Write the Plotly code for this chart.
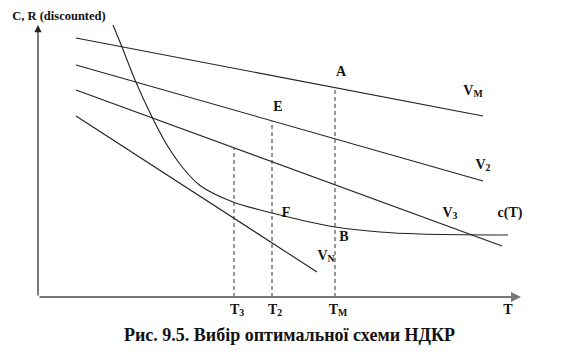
import numpy as np
import plotly.graph_objects as go

# ---- data (T on horizontal, C/R on vertical, arbitrary units) ----
line_names = ["V<sub>М</sub>", "V<sub>2</sub>", "V<sub>3</sub>", "V<sub>N</sub>"]
line_t0 = [3.8, 3.8, 3.8, 3.8]
line_t1 = [44.5, 44.5, 46.4, 27.9]
line_c0 = [25.9, 23.2, 20.7, 18.1]
line_c1 = [18.1, 11.6, 5.1, 2.5]

cost_t = [7.5, 8.4, 9.7, 11.4, 12.9, 14.5, 16.2, 19.5, 23.4, 29.7, 34.2, 38.2, 47.0]
cost_c = [27.2, 25.0, 21.7, 18.0, 15.2, 12.9, 11.15, 9.5, 8.4, 7.0, 6.5, 6.3, 6.2]

t_marks = [19.6, 23.4, 29.7]          # T3, T2, TM
t_mark_labels = ["T<sub>3</sub>", "T<sub>2</sub>", "T<sub>М</sub>"]
t_mark_line = [2, 1, 0]               # which V line the dashed marker reaches

x_max, y_max = 48.3, 27.2

FONT = "Liberation Serif"
fig = go.Figure()

for i in range(4):
    fig.add_trace(go.Scatter(x=[line_t0[i], line_t1[i]], y=[line_c0[i], line_c1[i]],
                             mode="lines", line=dict(color="#222", width=1.1),
                             hoverinfo="skip", showlegend=False))

fig.add_trace(go.Scatter(x=cost_t, y=cost_c, mode="lines",
                         line=dict(color="#222", width=1.1, shape="spline", smoothing=0.8),
                         hoverinfo="skip", showlegend=False))

for t, li in zip(t_marks, t_mark_line):
    top = np.interp(t, [line_t0[li], line_t1[li]], [line_c0[li], line_c1[li]])
    fig.add_trace(go.Scatter(x=[t, t], y=[0, top], mode="lines",
                             line=dict(color="#333", width=1, dash="4px,3px"),
                             hoverinfo="skip", showlegend=False))

# axes with arrows
fig.add_annotation(x=0, y=y_max, ax=0, ay=0, xref="x", yref="y", axref="x", ayref="y",
                   showarrow=True, arrowhead=2, arrowsize=1.2, arrowwidth=1.2, arrowcolor="#222", text="")
fig.add_annotation(x=x_max, y=0, ax=0, ay=0, xref="x", yref="y", axref="x", ayref="y",
                   showarrow=True, arrowhead=2, arrowsize=1.0, arrowwidth=2, arrowcolor="#777", text="")

# text labels
lab_x = [30.3, 24.0, 24.8, 30.6, 43.5, 44.5, 41.2, 28.8, 47.2] + [t + 0.3 for t in t_marks] + [47.0]
lab_y = [22.5, 19.0, 8.4, 6.0, 20.6, 13.2, 8.4, 4.1, 8.4] + [-1.3] * 3 + [-1.3]
lab_t = ["A", "E", "F", "B"] + line_names + ["c(T)"] + t_mark_labels + ["T"]
fig.add_trace(go.Scatter(x=lab_x, y=lab_y, mode="text", text=["<b>" + s + "</b>" for s in lab_t],
                         textposition="middle center", cliponaxis=False,
                         textfont=dict(family=FONT, size=14, color="#111"),
                         hoverinfo="skip", showlegend=False))
fig.add_trace(go.Scatter(x=[2.1], y=[28.0], mode="text", text=["<b>C, R (discounted)</b>"],
                         textposition="middle center", cliponaxis=False,
                         textfont=dict(family=FONT, size=12.5, color="#111"),
                         hoverinfo="skip", showlegend=False))

W, H = 570, 356   # page body has an 8px margin
fig.add_annotation(x=281/W, y=1-327/H, xref="paper", yref="paper", showarrow=False,
                   xanchor="center", yanchor="middle",
                   text="<b>Рис. 9.5. Вибір оптимальної схеми НДКР</b>",
                   font=dict(family=FONT, size=18, color="#111"))

fig.update_xaxes(range=[-3.0, 54.0], visible=False)
fig.update_yaxes(range=[-6.7, 28.9], visible=False)
fig.update_layout(width=W, height=H, autosize=False, margin=dict(l=0, r=0, t=0, b=0),
                  plot_bgcolor="white", paper_bgcolor="white")
fig.write_html("out.html")
